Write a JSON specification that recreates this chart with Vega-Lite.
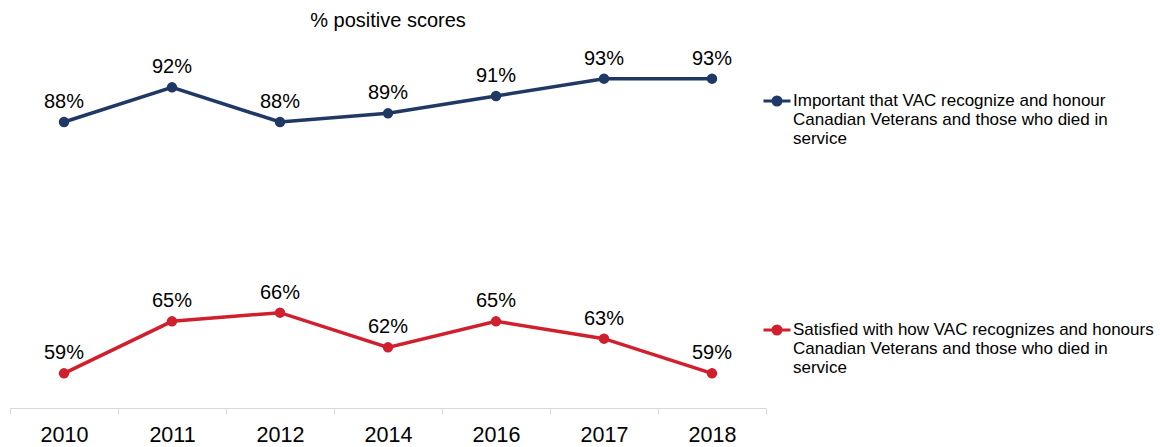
{
  "$schema": "https://vega.github.io/schema/vega-lite/v6.json",
  "width": 756,
  "height": 390,
  "autosize": "none",
  "padding": {"left": 10, "top": 18, "right": 394, "bottom": 39},
  "title": {"text": "% positive scores", "fontSize": 20, "font": "Liberation Sans", "fontWeight": "normal", "color": "#000000", "offset": -13, "anchor": "middle"},
  "config": {"view": {"stroke": null}, "font": "Liberation Sans"},
  "data": {"values": [
    {"year": "2010", "series": "Important that VAC recognize and honour Canadian Veterans and those who died in service", "value": 0.88},
    {"year": "2011", "series": "Important that VAC recognize and honour Canadian Veterans and those who died in service", "value": 0.92},
    {"year": "2012", "series": "Important that VAC recognize and honour Canadian Veterans and those who died in service", "value": 0.88},
    {"year": "2014", "series": "Important that VAC recognize and honour Canadian Veterans and those who died in service", "value": 0.89},
    {"year": "2016", "series": "Important that VAC recognize and honour Canadian Veterans and those who died in service", "value": 0.91},
    {"year": "2017", "series": "Important that VAC recognize and honour Canadian Veterans and those who died in service", "value": 0.93},
    {"year": "2018", "series": "Important that VAC recognize and honour Canadian Veterans and those who died in service", "value": 0.93},
    {"year": "2010", "series": "Satisfied with how VAC recognizes and honours Canadian Veterans and those who died in service", "value": 0.59},
    {"year": "2011", "series": "Satisfied with how VAC recognizes and honours Canadian Veterans and those who died in service", "value": 0.65},
    {"year": "2012", "series": "Satisfied with how VAC recognizes and honours Canadian Veterans and those who died in service", "value": 0.66},
    {"year": "2014", "series": "Satisfied with how VAC recognizes and honours Canadian Veterans and those who died in service", "value": 0.62},
    {"year": "2016", "series": "Satisfied with how VAC recognizes and honours Canadian Veterans and those who died in service", "value": 0.65},
    {"year": "2017", "series": "Satisfied with how VAC recognizes and honours Canadian Veterans and those who died in service", "value": 0.63},
    {"year": "2018", "series": "Satisfied with how VAC recognizes and honours Canadian Veterans and those who died in service", "value": 0.59}
  ]},
  "encoding": {
    "x": {"field": "year", "type": "ordinal", "scale": {"type": "band", "paddingInner": 0, "paddingOuter": 0},
      "axis": {"title": null, "domainColor": "#d9d9d9", "domainWidth": 1, "tickColor": "#d9d9d9", "tickSize": 6, "tickBand": "extent", "labelAngle": 0, "labelFontSize": 21.5, "labelColor": "#000000", "labelPadding": 10}},
    "y": {"field": "value", "type": "quantitative", "scale": {"domain": [0.55, 1.0]}, "axis": null}
  },
  "layer": [
    {"mark": {"type": "line", "strokeWidth": 3.5, "point": {"filled": true, "size": 110, "opacity": 1}},
     "encoding": {"color": {"field": "series", "type": "nominal",
       "scale": {"domain": ["Important that VAC recognize and honour Canadian Veterans and those who died in service", "Satisfied with how VAC recognizes and honours Canadian Veterans and those who died in service"], "range": ["#1F3864", "#D0202E"]},
       "legend": {"title": null, "orient": "none", "legendX": 752, "legendY": 68, "padding": 0,
         "labelExpr": "indexof(datum.label, 'Important') == 0 ? ['Important that VAC recognize and honour', 'Canadian Veterans and those who died in', 'service'] : ['Satisfied with how VAC recognizes and honours', 'Canadian Veterans and those who died in', 'service']",
         "labelFontSize": 17, "labelColor": "#000000", "labelLimit": 600, "labelOffset": 1,
         "symbolType": "M-1,0L1,0M-0.3,0A0.3,0.3,0,1,1,0.3,0A0.3,0.3,0,1,1,-0.3,0Z",
         "symbolSize": 729, "symbolStrokeWidth": 3, "rowPadding": 168}}}},
    {"mark": {"type": "text", "baseline": "bottom", "dy": -10, "fontSize": 20, "color": "#000000"},
     "encoding": {"text": {"field": "value", "type": "quantitative", "format": ".0%"}}}
  ]
}
